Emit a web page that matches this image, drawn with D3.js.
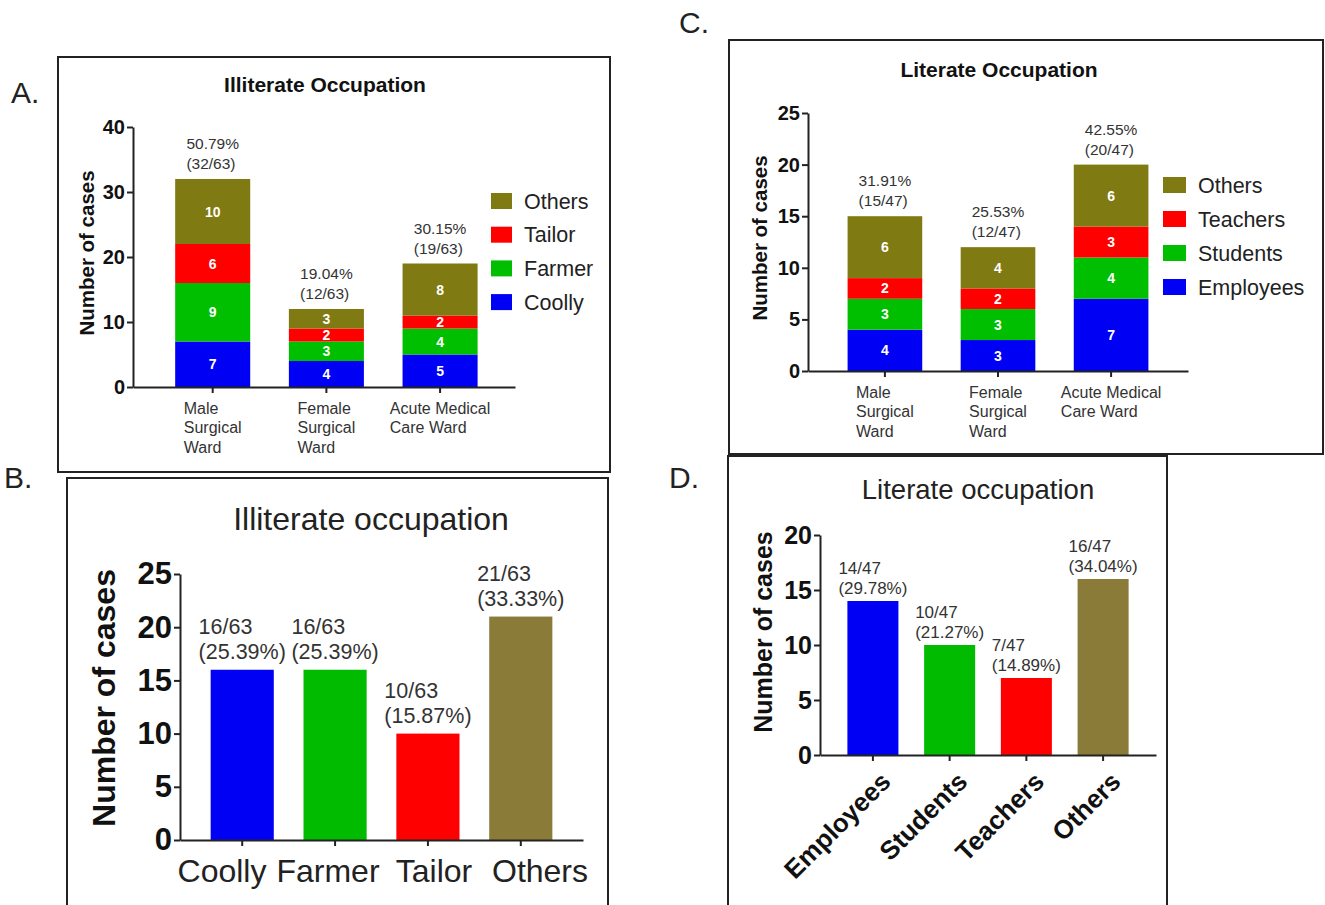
<!DOCTYPE html>
<html lang="en">
<head>
  <meta charset="UTF-8">
  <title>Occupation of cases</title>
  <script src="https://d3js.org/d3.v7.min.js"></script>
  <style>
    body { margin: 0; background: #fff; }
    svg text { font-family: Arial, "Liberation Sans", sans-serif; }
  </style>
</head>
<body>
  <svg width="1325" height="905"></svg>

  <script>
    // ward names, split into lines as on the figure
    const wardLines = [["Male", "Surgical", "Ward"], ["Female", "Surgical", "Ward"], ["Acute Medical", "Care Ward"]];

    // A. illiterate occupation per ward
    const illitSeries = ["Coolly", "Farmer", "Tailor", "Others"];
    const illitCoolly = [7, 4, 5];
    const illitFarmer = [9, 3, 4];
    const illitTailor = [6, 2, 2];
    const illitOthers = [10, 3, 8];
    const illitWardPct = ["50.79%", "19.04%", "30.15%"];
    const illitWardFrac = ["(32/63)", "(12/63)", "(19/63)"];
    const ticksA = [0, 10, 20, 30, 40];

    // C. literate occupation per ward
    const litSeries = ["Employees", "Students", "Teachers", "Others"];
    const litEmployees = [4, 3, 7];
    const litStudents = [3, 3, 4];
    const litTeachers = [2, 2, 3];
    const litOthers = [6, 4, 6];
    const litWardPct = ["31.91%", "25.53%", "42.55%"];
    const litWardFrac = ["(15/47)", "(12/47)", "(20/47)"];
    const ticksC = [0, 5, 10, 15, 20, 25];

    // B. illiterate totals
    const illitTotals = [16, 16, 10, 21];
    const illitTotalFrac = ["16/63", "16/63", "10/63", "21/63"];
    const illitTotalPct = ["(25.39%)", "(25.39%)", "(15.87%)", "(33.33%)"];
    const ticksB = [0, 5, 10, 15, 20, 25];

    // D. literate totals
    const litTotals = [14, 10, 7, 16];
    const litTotalFrac = ["14/47", "10/47", "7/47", "16/47"];
    const litTotalPct = ["(29.78%)", "(21.27%)", "(14.89%)", "(34.04%)"];
    const ticksD = [0, 5, 10, 15, 20];

    const stackColors = ["#0000f4", "#00bf00", "#ff0000", "#7f7a12"];
    const barColors = ["#0000f4", "#00bb00", "#ff0000", "#8a7b38"];

    const svg = d3.select("svg");

    function frame(x, y, w, h) {
      svg.append("rect").attr("x", x).attr("y", y).attr("width", w).attr("height", h)
        .attr("fill", "none").attr("stroke", "#222").attr("stroke-width", 2);
    }

    function letter(x, y, s) {
      svg.append("text").attr("x", x).attr("y", y).attr("font-size", 30).attr("fill", "#222").text(s);
    }

    // lines left aligned, block centred on cx
    function blockLabel(g, cx, yBase, lines, lineH, size, color, weight) {
      const texts = lines.map((s, i) => g.append("text")
        .attr("y", yBase + i * lineH)
        .attr("font-size", size).attr("fill", color).attr("font-weight", weight || "normal")
        .text(s));
      const w = d3.max(texts, t => t.node().getComputedTextLength());
      texts.forEach(t => t.attr("x", cx - w / 2));
    }

    function styleAxis(ax, size) {
      ax.selectAll("path, line").attr("stroke", "#222").attr("stroke-width", 2);
      ax.selectAll("text").attr("font-size", size).attr("font-weight", "bold").attr("fill", "#111");
    }

    function yLabel(g, x, y, size) {
      g.append("text").attr("transform", `translate(${x},${y}) rotate(-90)`)
        .attr("text-anchor", "middle").attr("dy", "0.35em")
        .attr("font-size", size).attr("font-weight", "bold").attr("fill", "#111")
        .text("Number of cases");
    }

    function stackedPanel(p) {
      const g = svg.append("g");
      const rows = p.lines.map((l, i) => {
        const r = { i: i };
        p.series.forEach((s, k) => { r[s] = p.values[k][i]; });
        return r;
      });
      const layers = d3.stack().keys(p.series)(rows);
      const x = d3.scaleBand().domain(d3.range(p.lines.length)).range([p.x0, p.x1])
        .paddingInner(0.34).paddingOuter(0.35).align(p.align);
      const y = d3.scaleLinear().domain([0, p.max]).range([p.y0, p.y1]);

      layers.forEach((layer, k) => {
        g.selectAll(null).data(layer).join("rect")
          .attr("x", d => x(d.data.i)).attr("width", x.bandwidth())
          .attr("y", d => y(d[1])).attr("height", d => y(d[0]) - y(d[1]))
          .attr("fill", stackColors[k]);
        g.selectAll(null).data(layer).join("text")
          .attr("x", d => x(d.data.i) + x.bandwidth() / 2)
          .attr("y", d => (y(d[0]) + y(d[1])) / 2)
          .attr("dy", "0.36em").attr("text-anchor", "middle")
          .attr("fill", "#fff").attr("font-weight", "bold").attr("font-size", 14)
          .text(d => d[1] - d[0]);
      });

      const ya = g.append("g").attr("transform", `translate(${p.x0},0)`)
        .call(d3.axisLeft(y).tickValues(p.ticks).tickSize(6).tickSizeOuter(0).tickPadding(2));
      styleAxis(ya, 20);
      const xa = g.append("g").attr("transform", `translate(0,${p.y0})`)
        .call(d3.axisBottom(x).tickSize(6).tickSizeOuter(0).tickFormat(""));
      styleAxis(xa, 16);

      // totals above each stack
      const totals = rows.map(r => d3.sum(p.series, s => r[s]));
      totals.forEach((t, i) => {
        blockLabel(g, x(i) + x.bandwidth() / 2, y(t) - 30, [p.pct[i], p.frac[i]], 20, 15.5, "#333");
        blockLabel(g, x(i) + x.bandwidth() / 2, p.y0 + 27, p.lines[i], 19.3, 16, "#333");
      });

      yLabel(g, p.yLabelX, (p.y0 + p.y1) / 2 - 4, 20.5);

      g.append("text").attr("x", p.titleX).attr("y", p.titleY).attr("text-anchor", "middle")
        .attr("font-size", 21).attr("font-weight", "bold").attr("fill", "#111").text(p.title);

      // legend, top row is the last series
      p.series.slice().reverse().forEach((s, j) => {
        const cy = p.legY + j * p.legStep;
        g.append("rect").attr("x", p.legX).attr("y", cy - 8).attr("width", p.legW).attr("height", 16)
          .attr("fill", stackColors[p.series.length - 1 - j]);
        g.append("text").attr("x", p.legX + p.legW + 12).attr("y", cy).attr("dy", "0.36em")
          .attr("font-size", 21.5).attr("fill", "#222").text(s);
      });
    }

    function barPanel(p) {
      const g = svg.append("g");
      const x = d3.scaleBand().domain(p.cats).range([p.x0, p.x1])
        .paddingInner(p.pi).paddingOuter(p.po);
      const y = d3.scaleLinear().domain([0, p.max]).range([p.y0, p.y1]);

      g.selectAll(null).data(p.values).join("rect")
        .attr("x", (d, i) => x(p.cats[i])).attr("width", x.bandwidth())
        .attr("y", d => y(d)).attr("height", d => p.y0 - y(d))
        .attr("fill", (d, i) => barColors[i]);

      const ya = g.append("g").attr("transform", `translate(${p.x0},0)`)
        .call(d3.axisLeft(y).tickValues(p.ticks).tickSize(6).tickSizeOuter(0).tickPadding(2));
      styleAxis(ya, p.tickFont);
      const xa = g.append("g").attr("transform", `translate(0,${p.y0})`)
        .call(d3.axisBottom(x).tickSize(6).tickSizeOuter(0).tickFormat(""));
      styleAxis(xa, 10);

      p.values.forEach((v, i) => {
        const cx = x(p.cats[i]) + x.bandwidth() / 2;
        blockLabel(g, cx, y(v) - p.lblOff, [p.frac[i], p.pct[i]], p.lblLine, p.lblFont, "#333");
      });

      if (p.rotate) {
        g.selectAll(null).data(p.cats).join("text")
          .attr("transform", d => `translate(${x(d) + x.bandwidth() / 2 + 6},${p.y0 + 15}) rotate(-45)`)
          .attr("text-anchor", "end").attr("dy", "0.72em")
          .attr("font-size", p.catFont).attr("font-weight", "bold").attr("fill", "#111")
          .text(d => d);
      } else {
        // category names spread a little wider than the bars, as in the figure
        const lx = d3.scalePoint().domain(p.cats).range(p.catRange);
        g.selectAll(null).data(p.cats).join("text")
          .attr("x", d => lx(d)).attr("y", p.y0 + 42)
          .attr("text-anchor", "middle")
          .attr("font-size", p.catFont).attr("fill", "#222")
          .text(d => d);
      }

      yLabel(g, p.yLabelX, (p.y0 + p.y1) / 2 + p.yLabelDy, p.yLabelFont);

      g.append("text").attr("x", p.titleX).attr("y", p.titleY).attr("text-anchor", "middle")
        .attr("font-size", p.titleFont).attr("fill", "#222").text(p.title);
    }

    // frames and panel letters
    frame(58, 57, 552, 415);
    frame(729, 40, 594, 414);
    frame(67, 478, 541, 445);
    frame(728, 456, 439, 460);
    letter(11, 103, "A.");
    letter(4, 488, "B.");
    letter(679, 33, "C.");
    letter(669, 488, "D.");

    stackedPanel({
      lines: wardLines, series: illitSeries,
      values: [illitCoolly, illitFarmer, illitTailor, illitOthers],
      pct: illitWardPct, frac: illitWardFrac, ticks: ticksA, max: 40,
      x0: 133, x1: 515, y0: 387, y1: 127, align: 0.53,
      title: "Illiterate Occupation", titleX: 325, titleY: 92, yLabelX: 87,
      legX: 491, legY: 201, legStep: 33.7, legW: 21
    });

    stackedPanel({
      lines: wardLines, series: litSeries,
      values: [litEmployees, litStudents, litTeachers, litOthers],
      pct: litWardPct, frac: litWardFrac, ticks: ticksC, max: 25,
      x0: 808, x1: 1188, y0: 371, y1: 113, align: 0.5,
      title: "Literate Occupation", titleX: 999, titleY: 77, yLabelX: 760,
      legX: 1163, legY: 185, legStep: 34, legW: 23
    });

    barPanel({
      cats: illitSeries, values: illitTotals, frac: illitTotalFrac, pct: illitTotalPct,
      ticks: ticksB, max: 25, x0: 180, x1: 583, y0: 840, y1: 574, pi: 0.32, po: 0.33,
      tickFont: 31, catFont: 32, catRange: [222, 540], lblFont: 21.5, lblLine: 25, lblOff: 36,
      yLabelX: 104, yLabelFont: 32, yLabelDy: -9,
      title: "Illiterate occupation", titleX: 371, titleY: 530, titleFont: 32
    });

    barPanel({
      cats: litSeries, values: litTotals, frac: litTotalFrac, pct: litTotalPct,
      ticks: ticksD, max: 20, x0: 820, x1: 1156, y0: 755, y1: 535, pi: 0.335, po: 0.357,
      tickFont: 25, catFont: 26, lblFont: 17, lblLine: 20, lblOff: 27,
      yLabelX: 763, yLabelFont: 25, yLabelDy: -13, rotate: true,
      title: "Literate occupation", titleX: 978, titleY: 499, titleFont: 27.5
    });
  </script>
</body>
</html>
